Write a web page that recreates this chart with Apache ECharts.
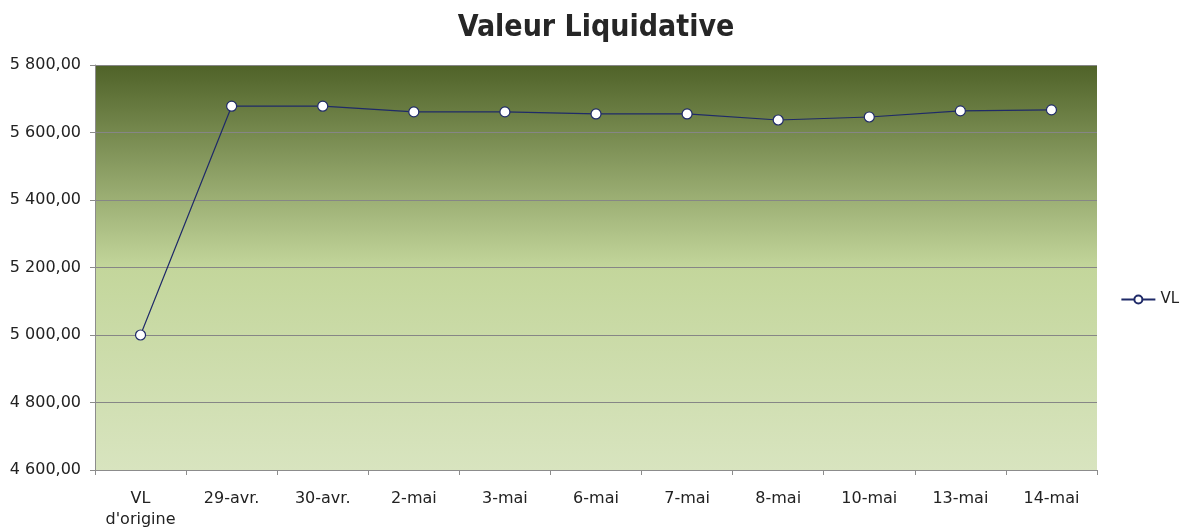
<!DOCTYPE html>
<html>
<head>
<meta charset="UTF-8">
<title>Valeur Liquidative</title>
<script src="https://cdn.jsdelivr.net/npm/echarts@6/dist/echarts.min.js"></script>
<style>
  html, body { margin: 0; padding: 0; background: #fff; }
  #main { width: 1192px; height: 529px; }
</style>
</head>
<body>
<div id="main"></div>
<script type="text/javascript">
var categories = ['VL\nd\'origine', '29-avr.', '30-avr.', '2-mai', '3-mai', '6-mai', '7-mai', '8-mai', '10-mai', '13-mai', '14-mai'];
var vlValues = [5000, 5678, 5678, 5661, 5661, 5655, 5655, 5637, 5646, 5664, 5667];
var yMin = 4600, yMax = 5800, yStep = 200;

function fmt(v) {
    var s = v.toFixed(2).replace('.', ',');
    var parts = s.split(',');
    var intPart = parts[0].replace(/\B(?=(\d{3})+(?!\d))/g, ' ');
    return intPart + ',' + parts[1];
}

var myChart = echarts.init(document.getElementById('main'));
var font = 'Tahoma, "DejaVu Sans", sans-serif';

var option = {
    animation: false,
    title: {
        text: 'Valeur Liquidative',
        left: 'center',
        top: 8,
        textStyle: { fontFamily: '"DejaVu Sans Condensed", "DejaVu Sans", sans-serif', fontSize: 30, fontWeight: 'bold', color: '#262626' }
    },
    legend: {
        data: ['VL'],
        right: 8,
        top: 287,
        itemWidth: 34,
        itemHeight: 10,
        itemGap: 5,
        textStyle: { fontFamily: font, fontSize: 15, color: '#222' }
    },
    grid: {
        left: 95, right: 95, top: 65, bottom: 59,
        outerBoundsMode: 'none',
        containLabel: false,
        show: true,
        borderWidth: 0,
        backgroundColor: new echarts.graphic.LinearGradient(0, 0, 0, 1, [
            { offset: 0, color: '#4f6228' },
            { offset: 0.5, color: '#c3d69b' },
            { offset: 1, color: '#d8e4bf' }
        ])
    },
    xAxis: {
        type: 'category',
        data: categories,
        boundaryGap: true,
        axisLine: { lineStyle: { color: '#8c8c8c', width: 1 } },
        axisTick: { show: true, length: 5, lineStyle: { color: '#8c8c8c' } },
        axisLabel: {
            fontFamily: font, fontSize: 16, color: '#222', margin: 18, lineHeight: 21, interval: 0
        }
    },
    yAxis: {
        type: 'value',
        min: yMin, max: yMax, interval: yStep,
        axisLine: { show: true, lineStyle: { color: '#8c8c8c', width: 1 } },
        axisTick: { show: true, length: 5, lineStyle: { color: '#8c8c8c' } },
        splitLine: { show: true, lineStyle: { color: '#868686', width: 1 } },
        axisLabel: {
            fontFamily: font, fontSize: 16, color: '#222', margin: 14,
            formatter: fmt
        }
    },
    series: [{
        name: 'VL',
        type: 'line',
        data: vlValues,
        symbol: 'circle',
        symbolSize: 10,
        lineStyle: { color: '#1f2a68', width: 1.2 },
        itemStyle: { color: '#ffffff', borderColor: '#1f2a68', borderWidth: 1.2 }
    }]
};

myChart.setOption(option);
</script>
</body>
</html>
